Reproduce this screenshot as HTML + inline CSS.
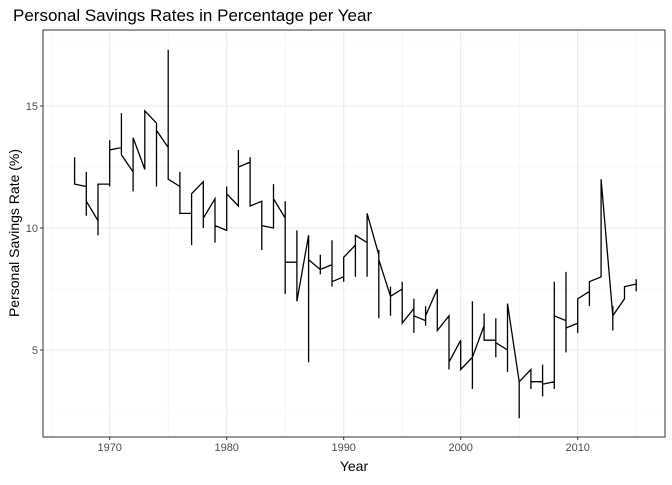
<!DOCTYPE html>
<html><head><meta charset="utf-8"><style>
body{margin:0;background:#fff;}
svg text{font-family:"Liberation Sans",Arial,sans-serif;}
</style></head><body>
<svg id="chart" width="672" height="480" xmlns="http://www.w3.org/2000/svg">
<text x="13" y="21" font-size="17" fill="#000">Personal Savings Rates in Percentage per Year</text>
<g id="grid"></g>
<path id="series" fill="none" stroke="#000" stroke-width="1.3"></path>
<rect x="43" y="30" width="622" height="407" fill="none" stroke="#333" stroke-width="1"></rect>
<g id="axes"></g>
<text x="354" y="471" font-size="14" text-anchor="middle">Year</text>
<text transform="translate(19,233) rotate(-90)" font-size="14" text-anchor="middle">Personal Savings Rate (%)</text>
</svg>
<script>
const years=[1967,1968,1969,1970,1971,1972,1973,1974,1975,1976,1977,1978,1979,1980,1981,1982,1983,1984,1985,1986,1987,1988,1989,1990,1991,1992,1993,1994,1995,1996,1997,1998,1999,2000,2001,2002,2003,2004,2005,2006,2007,2008,2009,2010,2011,2012,2013,2014,2015];
const firstVals=[12.9,11.7,10.3,11.8,13.3,12.3,12.4,14.3,13.3,11.7,10.6,11.9,11.2,9.9,10.9,12.7,11.1,10.0,10.4,8.6,9.7,8.3,8.5,8.0,9.3,9.4,8.9,7.2,7.5,6.7,6.2,7.5,6.4,5.4,4.7,6.0,5.4,5.0,3.7,4.2,3.7,3.7,6.2,6.1,7.4,8.0,6.4,7.1,7.7];
const lastVals=[11.8,11.1,11.8,13.2,13.0,13.7,14.8,14.0,12.0,10.6,11.4,10.4,10.1,11.4,12.5,10.9,10.1,11.2,8.6,7.0,8.7,8.3,7.8,8.8,9.7,10.6,8.7,7.2,6.1,6.4,6.4,5.8,4.5,4.2,4.7,5.4,5.3,6.9,3.7,3.7,3.6,6.4,5.9,7.1,7.8,12.0,6.4,7.6,7.7];
const loVals=[11.8,10.5,9.7,11.7,13.0,11.5,12.4,11.7,12.0,10.6,9.3,10.0,9.4,9.9,10.9,10.9,9.1,10.0,7.3,7.0,4.5,8.1,7.6,7.8,8.0,8.0,6.3,6.4,6.1,5.7,6.0,5.8,4.2,4.2,3.4,5.4,4.7,4.1,2.2,3.4,3.1,3.4,4.9,5.7,6.8,8.0,5.8,7.1,7.4];
const hiVals=[12.9,12.3,11.8,13.6,14.7,13.7,14.8,14.3,17.3,12.3,11.4,11.9,11.2,11.7,13.2,12.9,11.1,11.8,11.1,9.9,9.7,8.9,9.5,8.8,9.7,10.6,9.1,7.6,7.8,7.1,6.8,7.5,6.4,5.4,7.0,6.5,6.3,6.9,3.7,4.2,4.4,7.8,8.2,7.1,7.8,12.0,6.8,7.6,7.9];
const xTicks=[1970,1980,1990,2000,2010];
const yTicks=[5,10,15];
const xMinor=[1965,1975,1985,1995,2005,2015];
const yMinor=[2.5,7.5,12.5,17.5];
const L=43,R=665,T=30,B=437;
function xs(v){return 109.7+(v-1970)*11.7;}
function ys(v){return 350-(v-5)*24.4;}
const NS="http://www.w3.org/2000/svg";
const grid=document.getElementById('grid'),axes=document.getElementById('axes');
function line(p,x1,y1,x2,y2,c,w){const l=document.createElementNS(NS,'line');l.setAttribute('x1',x1);l.setAttribute('y1',y1);l.setAttribute('x2',x2);l.setAttribute('y2',y2);l.setAttribute('stroke',c);l.setAttribute('stroke-width',w);p.appendChild(l);return l;}
xMinor.forEach(v=>{const x=xs(v);if(x>L&&x<R){const l=line(grid,x,T,x,B,'#f2f2f2',0.6);

}});
yMinor.forEach(v=>{const y=ys(v);if(y>T&&y<B){const l=line(grid,L,y,R,y,'#f2f2f2',0.6);

}});
xTicks.forEach(v=>{const x=xs(v);const l=line(grid,x,T,x,B,'#ebebeb',1.1);


const t=line(axes,x,B,x,B+3,'#333',1);


const tx=document.createElementNS(NS,'text');tx.setAttribute('x',x);tx.setAttribute('y',B+14);tx.setAttribute('font-size','11');tx.setAttribute('fill','#4d4d4d');tx.setAttribute('text-anchor','middle');tx.textContent=v;


axes.appendChild(tx);});
yTicks.forEach(v=>{const y=ys(v);const l=line(grid,L,y,R,y,'#ebebeb',1.1);


const t=line(axes,L-3,y,L,y,'#333',1);


const tx=document.createElementNS(NS,'text');tx.setAttribute('x',L-5);tx.setAttribute('y',y+4);tx.setAttribute('font-size','11');tx.setAttribute('fill','#4d4d4d');tx.setAttribute('text-anchor','end');tx.textContent=v;


axes.appendChild(tx);});
let d='';
years.forEach((yr,i)=>{const x=xs(yr);
[firstVals[i],loVals[i],hiVals[i],lastVals[i]].forEach((v,j)=>{d+=(d===''?'M':'L')+x.toFixed(1)+','+ys(v).toFixed(1)+' ';});});
document.getElementById('series').setAttribute('d',d);
</script>
</body></html>
